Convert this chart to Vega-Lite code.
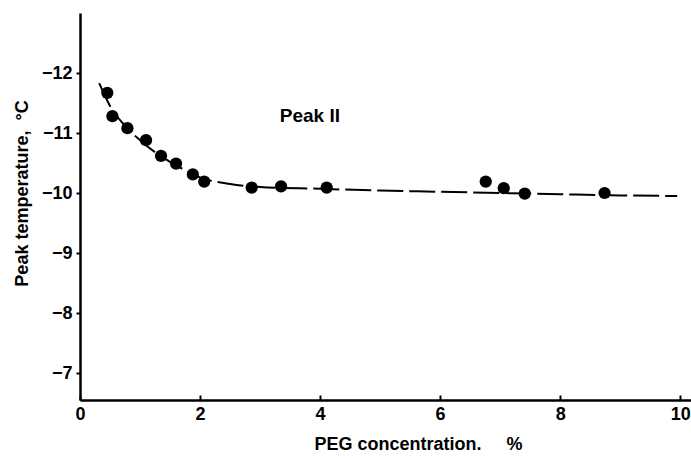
{
  "$schema": "https://vega.github.io/schema/vega-lite/v6.json",
  "width": 611,
  "height": 387,
  "autosize": "none",
  "padding": {"left": 80, "top": 13, "right": 0, "bottom": 58},
  "background": "white",
  "config": {
    "view": {"stroke": null},
    "font": "Liberation Sans",
    "axis": {"grid": false, "domainColor": "black", "domainWidth": 2.5, "tickColor": "black", "tickWidth": 2, "labelColor": "black", "titleColor": "black", "labelFont": "Liberation Sans", "titleFont": "Liberation Sans", "labelFontWeight": "bold", "titleFontWeight": "bold", "labelFontSize": 18, "titleFontSize": 18}
  },
  "datasets": {
    "points": [
      {"peg": 0.455, "temp": -11.67},
      {"peg": 0.54, "temp": -11.28},
      {"peg": 0.79, "temp": -11.08},
      {"peg": 1.1, "temp": -10.88},
      {"peg": 1.35, "temp": -10.62},
      {"peg": 1.6, "temp": -10.49},
      {"peg": 1.88, "temp": -10.31},
      {"peg": 2.07, "temp": -10.19},
      {"peg": 2.86, "temp": -10.09},
      {"peg": 3.35, "temp": -10.11},
      {"peg": 4.11, "temp": -10.09},
      {"peg": 6.76, "temp": -10.19},
      {"peg": 7.06, "temp": -10.08},
      {"peg": 7.41, "temp": -9.99},
      {"peg": 8.74, "temp": -10.0}
    ],
    "curve": [
      {"peg": 0.32, "temp": -11.83},
      {"peg": 0.5, "temp": -11.45},
      {"peg": 0.75, "temp": -11.12},
      {"peg": 1.0, "temp": -10.88},
      {"peg": 1.25, "temp": -10.68},
      {"peg": 1.5, "temp": -10.52},
      {"peg": 1.75, "temp": -10.38},
      {"peg": 2.0, "temp": -10.26},
      {"peg": 2.5, "temp": -10.15},
      {"peg": 3.0, "temp": -10.1},
      {"peg": 4.0, "temp": -10.07},
      {"peg": 5.0, "temp": -10.04},
      {"peg": 6.0, "temp": -10.02},
      {"peg": 7.0, "temp": -10.0},
      {"peg": 8.0, "temp": -9.98},
      {"peg": 9.0, "temp": -9.96},
      {"peg": 9.95, "temp": -9.95}
    ],
    "labels": [
      {"peg": 3.83, "temp": -11.28, "text": "Peak II"}
    ]
  },
  "encoding": {
    "x": {"field": "peg", "type": "quantitative", "scale": {"domain": [0, 10.18], "nice": false, "zero": false},
      "axis": {"values": [0, 2, 4, 6, 8, 10], "title": "PEG concentration.\u00a0\u00a0\u00a0\u00a0\u00a0%", "titleX": 338, "tickSize": -5, "labelPadding": 10, "titlePadding": 12, "labelFlush": false}},
    "y": {"field": "temp", "type": "quantitative", "scale": {"domain": [-13, -6.55], "nice": false, "zero": false, "reverse": true},
      "axis": {"values": [-12, -11, -10, -9, -8, -7], "title": "Peak temperature,\u00a0\u00a0°C", "titleY": 180, "tickSize": 4, "labelPadding": 4, "titlePadding": 10, "format": "d"}}
  },
  "layer": [
    {
      "data": {"name": "curve"},
      "mark": {"type": "line", "color": "black", "strokeWidth": 2, "strokeDash": [26, 6], "interpolate": "monotone"}
    },
    {
      "data": {"name": "points"},
      "mark": {"type": "point", "filled": true, "color": "black", "opacity": 1, "size": 150}
    },
    {
      "data": {"name": "labels"},
      "mark": {"type": "text", "fontSize": 19, "fontWeight": "bold", "color": "black"},
      "encoding": {"text": {"field": "text"}}
    },
    {
      "data": {"values": [{}]},
      "mark": {"type": "rule", "color": "black", "strokeWidth": 2.5},
      "encoding": {"y": {"datum": -13}}
    }
  ]
}
